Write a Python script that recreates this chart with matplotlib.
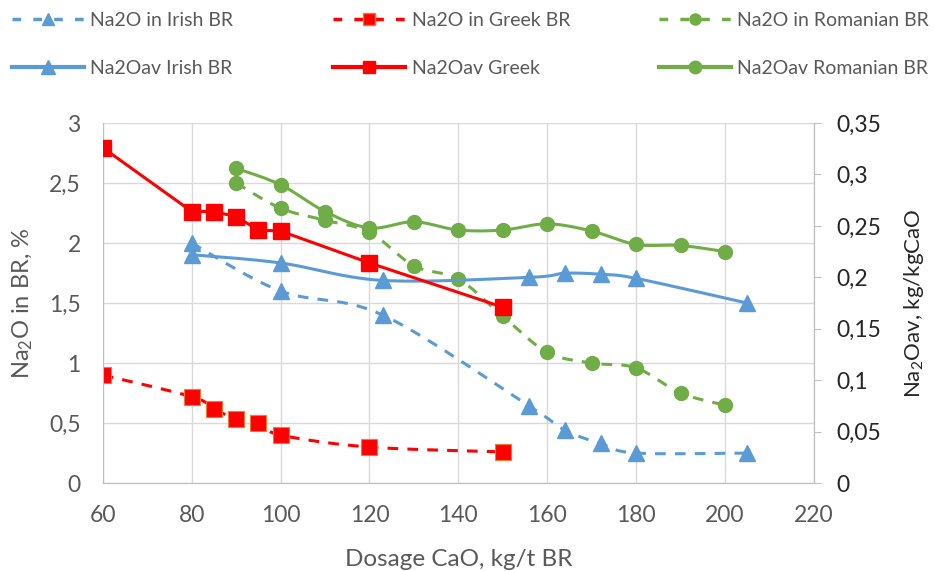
import numpy as np
import matplotlib
matplotlib.use('Agg')
import matplotlib.pyplot as plt
from matplotlib.lines import Line2D

plt.rcParams['font.family'] = ['Lato', 'DejaVu Sans']
plt.rcParams['mathtext.default'] = 'regular'

# data
irish_x = [80, 100, 123, 156, 164, 172, 180, 205]
irish_na2o = [2.0, 1.6, 1.4, 0.64, 0.44, 0.33, 0.25, 0.25]
irish_av = [0.222, 0.214, 0.197, 0.200, 0.204, 0.203, 0.199, 0.175]

greek_x = [60, 80, 85, 90, 95, 100, 120, 150]
greek_na2o = [0.9, 0.72, 0.62, 0.53, 0.5, 0.4, 0.3, 0.26]
greek_av = [0.326, 0.264, 0.264, 0.259, 0.246, 0.245, 0.214, 0.171]

rom_x = [90, 100, 110, 120, 130, 140, 150, 160, 170, 180, 190, 200]
rom_na2o = [2.5, 2.29, 2.19, 2.09, 1.81, 1.70, 1.39, 1.09, 1.0, 0.96, 0.75, 0.65]
rom_av = [0.306, 0.290, 0.264, 0.248, 0.254, 0.246, 0.246, 0.252, 0.245, 0.232, 0.231, 0.225]

BLUE = '#5B9BD5'
RED = '#FF0000'
GREEN = '#70AD47'
GRAY = '#595959'
DASH = (3.5, 3)


def smooth(x, y, n=20):
    # excel-style smoothed line: bezier through the points
    p = np.column_stack([x, y]).astype(float)
    ext = np.vstack([p[0], p, p[-1]])
    out = []
    t = np.linspace(0, 1, n)[:, None]
    for i in range(len(p) - 1):
        p0, p3 = p[i], p[i + 1]
        p1 = p0 + (ext[i + 2] - ext[i]) / 6
        p2 = p3 - (ext[i + 3] - ext[i + 1]) / 6
        seg = (1 - t) ** 3 * p0 + 3 * (1 - t) ** 2 * t * p1 + 3 * (1 - t) * t ** 2 * p2 + t ** 3 * p3
        out.append(seg if i == 0 else seg[1:])
    out = np.vstack(out)
    return out[:, 0], out[:, 1]


fig = plt.figure(figsize=(9.35, 5.71), dpi=100)
ax = fig.add_axes([0.110, 0.154, 0.7604, 0.6305])
ax2 = ax.twinx()

# left axis: Na2O in BR
sx, sy = smooth(irish_x, irish_na2o)
ax.plot(sx, sy, color=BLUE, lw=2.2, dashes=DASH)
ax.plot(irish_x, irish_na2o, ls='none', marker='^', ms=11, color=BLUE)
sx, sy = smooth(greek_x, greek_na2o)
ax.plot(sx, sy, color=RED, lw=2.2, dashes=DASH)
ax.plot(greek_x, greek_na2o, ls='none', marker='s', ms=11, color=RED, mec='#ED7D31', mew=0.8)
sx, sy = smooth(rom_x, rom_na2o)
ax.plot(sx, sy, color=GREEN, lw=2.2, dashes=DASH)
ax.plot(rom_x, rom_na2o, ls='none', marker='o', ms=10, color=GREEN)

# right axis: Na2Oav
sx, sy = smooth(irish_x, irish_av)
ax2.plot(sx, sy, color=BLUE, lw=2.2)
ax2.plot(irish_x, irish_av, ls='none', marker='^', ms=11, color=BLUE)
ax2.plot(greek_x, greek_av, color=RED, lw=2.2, marker='s', ms=11)
sx, sy = smooth(rom_x, rom_av)
ax2.plot(sx, sy, color=GREEN, lw=2.2)
ax2.plot(rom_x, rom_av, ls='none', marker='o', ms=10, color=GREEN)

ax.set_xlim(60, 220)
ax.set_ylim(0, 3)
ax2.set_ylim(0, 0.35)
ax.set_xticks(np.arange(60, 221, 20))
ax.set_yticks(np.arange(0, 3.01, 0.5))
ax2.set_yticks(np.arange(0, 0.351, 0.05))
ax.set_yticklabels(['0', '0,5', '1', '1,5', '2', '2,5', '3'])
ax2.set_yticklabels(['0', '0,05', '0,1', '0,15', '0,2', '0,25', '0,3', '0,35'])

ax.grid(True, color='#D9D9D9', lw=1)
ax.set_axisbelow(True)
for a in (ax, ax2):
    for s in a.spines.values():
        s.set_color('#BFBFBF')
    a.spines['top'].set_visible(False)
ax2.spines['left'].set_visible(False)

ax.tick_params(axis='both', length=0, labelsize=16.5, labelcolor=GRAY)
ax.tick_params(axis='y', pad=16)
ax.tick_params(axis='x', pad=16)
ax2.tick_params(axis='y', length=5, color='#BFBFBF', labelsize=16.5, labelcolor='#262626', pad=11)

ax.set_xlabel('Dosage CaO, kg/t BR', fontsize=17.5, color=GRAY, labelpad=16)
ax.set_ylabel('Na$_2$O in BR, %', fontsize=17, color=GRAY, labelpad=10)
ax2.set_ylabel('Na$_2$Oav, kg/kgCaO', fontsize=16, color='#262626', labelpad=15)

# legend: three columns of two rows
groups = [
    (BLUE, '^', 11, 'Na2O in Irish BR', 'Na2Oav Irish BR', {}),
    (RED, 's', 10, 'Na2O in Greek BR', 'Na2Oav Greek', {'mec': '#ED7D31'}),
    (GREEN, 'o', 10, 'Na2O in Romanian BR', 'Na2Oav Romanian BR', {}),
]
xs = [0.0, 0.344, 0.692]
for (c, m, ms, l1, l2, kw), x0 in zip(groups, xs):
    h1 = Line2D([], [], color=c, lw=2.5, dashes=(2.5, 3.5), marker=m, ms=ms * 0.8, **kw)
    h2 = Line2D([], [], color=c, lw=3, marker=m, ms=ms * 0.9)
    leg = fig.legend([h1, h2], [l1, l2], loc='upper left', bbox_to_anchor=(x0, 1.0),
                     frameon=False, fontsize=14, handlelength=3.7, handletextpad=0.35,
                     labelspacing=1.6, borderaxespad=0.2, labelcolor=GRAY)

fig.savefig('out.png', dpi=100)
